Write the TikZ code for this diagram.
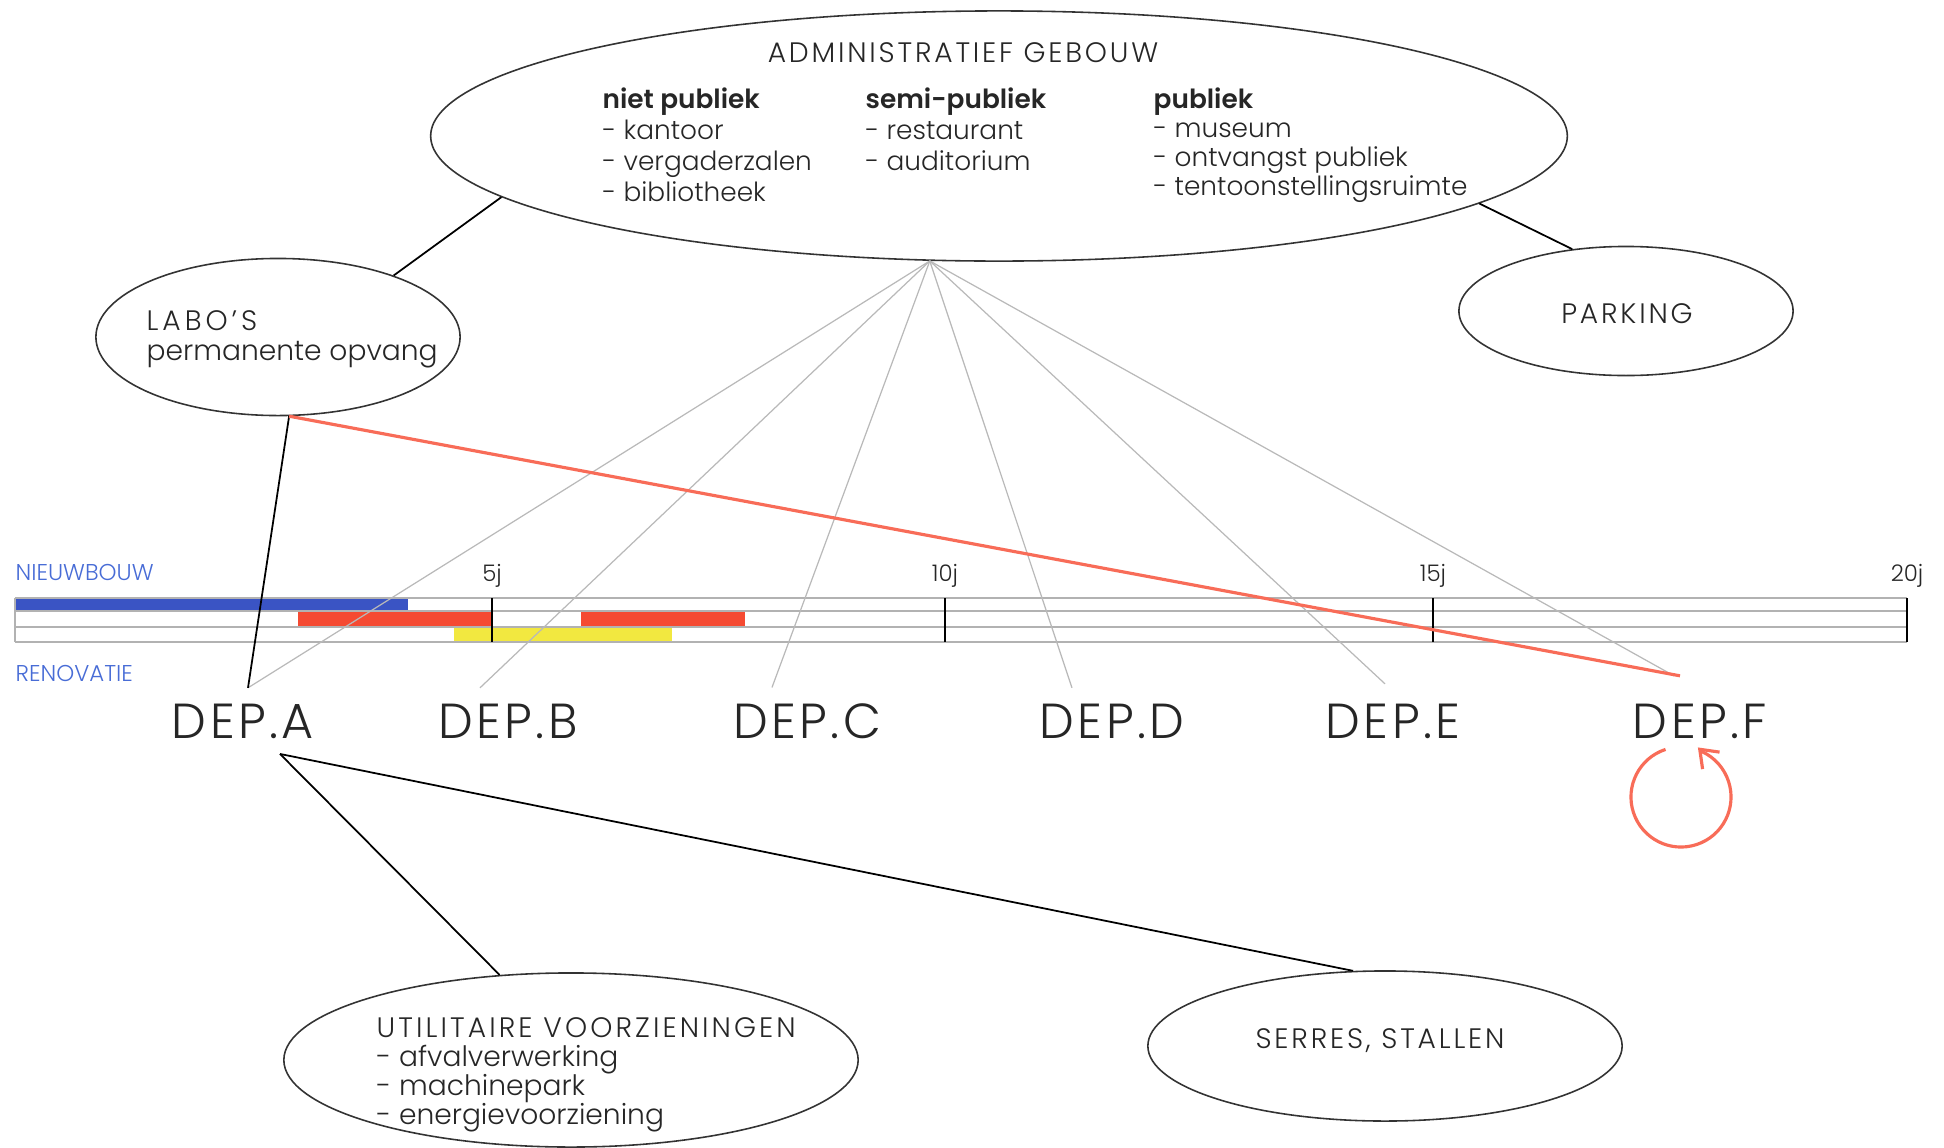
\documentclass[tikz,border=0pt]{standalone}
\usepackage{fontspec}
\setmainfont{Poppins}[UprightFont=*-Light,BoldFont=*-SemiBold]
\usetikzlibrary{shapes.geometric,arrows.meta}
\definecolor{nieuwblauw}{RGB}{58,84,196}
\definecolor{tekstblauw}{RGB}{72,108,214}
\definecolor{renorood}{RGB}{245,74,50}
\definecolor{renogeel}{RGB}{242,232,64}
\definecolor{lijnrood}{RGB}{248,108,88}
\tikzset{
  zone/.style={ellipse,draw=black!80,line width=0.45pt,inner sep=0pt},
  lijst/.style={anchor=north west,inner sep=0pt,align=left,text=black!85},
  dep/.style={anchor=base,inner xsep=0pt,inner ysep=0.15cm,text=black!85,font=\fontsize{14}{16}\selectfont\addfontfeatures{LetterSpace=7}},
  fan/.style={gray!55,line width=0.35pt},
  spoor/.style={gray!60,line width=0.6pt}
}
\begin{document}
\begin{tikzpicture}[x=0.01cm,y=-0.01cm]
\def \kop {\fontsize{8}{10}\selectfont\addfontfeatures{LetterSpace=10}}
\useasboundingbox (0,0) rectangle (1944,1148);
\draw (999,136) node[zone,minimum width=11.36cm,minimum height=2.5cm] (admin) {};
\draw (278,337) node[zone,minimum width=3.64cm,minimum height=1.57cm] (labo) {};
\draw (1626,311) node[zone,minimum width=3.34cm,minimum height=1.29cm] (parking) {};
\draw (571,1060) node[zone,minimum width=5.74cm,minimum height=1.74cm] (util) {};
\draw (1385,1046) node[zone,minimum width=4.74cm,minimum height=1.5cm] (serres) {};
\draw (963,62) node[anchor=base,inner sep=0pt,text=black!85,font=\kop] (admintitel) {ADMINISTRATIEF GEBOUW};
\draw (602,87) node[lijst,font=\fontsize{7.5}{8.8}\selectfont] (nietpubliek) {\textbf{niet publiek}\\- kantoor\\- vergaderzalen\\- bibliotheek};
\draw (865,87) node[lijst,font=\fontsize{7.5}{8.8}\selectfont] (semipubliek) {\textbf{semi-publiek}\\- restaurant\\- auditorium};
\draw (1153,87) node[lijst,font=\fontsize{7.5}{8.25}\selectfont] (publiek) {\textbf{publiek}\\- museum\\- ontvangst publiek\\- tentoonstellingsruimte};
\draw (146,310) node[lijst,font=\fontsize{8}{8.5}\selectfont] (labotekst) {{\addfontfeatures{LetterSpace=14}LABO'S}\\permanente opvang};
\draw (1627,314) node[text=black!85,font=\kop] (parkingtekst) {PARKING};
\draw (376,1017) node[lijst,font=\fontsize{8}{8.25}\selectfont] (utiltekst) {{\addfontfeatures{LetterSpace=11}UTILITAIRE VOORZIENINGEN}\\- afvalverwerking\\- machinepark\\- energievoorziening};
\draw (1380,1041) node[text=black!85,font=\kop] (serrestekst) {SERRES, STALLEN};
\fill[nieuwblauw] (15,598) rectangle (408,611);
\fill[renorood] (298,611) rectangle (492,626);
\fill[renorood] (581,611) rectangle (745,626);
\fill[renogeel] (454,627) rectangle (672,642);
\foreach \y in {598,611,627,642}
  \draw[spoor] (15,\y) -- (1907,\y);
\draw[spoor] (15,598) -- (15,642);
\foreach \x/\t in {492/5j,945/10j,1433/15j,1907/20j} {
  \draw[line width=0.4pt] (\x,598) -- (\x,642);
  \draw (\x,581) node[anchor=base,inner sep=0pt,text=black!85,font=\fontsize{6.5}{8}\selectfont] (j\x) {\t};
}
\draw (15,572) node[anchor=west,inner sep=0pt,text=tekstblauw,font=\fontsize{6.5}{8}\selectfont] (nieuwbouw) {NIEUWBOUW};
\draw (15,673) node[anchor=west,inner sep=0pt,text=tekstblauw,font=\fontsize{6.5}{8}\selectfont] (renovatie) {RENOVATIE};
\foreach \n/\x in {A/243,B/508,C/807,D/1112,E/1393,F/1700}
  \draw (\x,738) node[dep] (dep\n) {DEP.\n};
\coordinate (hub) at (admin.241);
\path[fan] (hub) edge ([xshift=0.05cm]depA.north)
  edge ([xshift=-0.28cm]depB.north)
  edge ([xshift=-0.35cm]depC.north)
  edge ([xshift=-0.4cm]depD.north)
  edge ([xshift=-0.08cm,yshift=0.04cm]depE.north)
  edge ([xshift=-0.26cm,yshift=0.12cm]depF.north);
\path[-,line width=0.5pt] (admin.187) edge (labo.28);
\path[-,line width=0.5pt] (admin.-8.5) edge (parking.131);
\path[-,line width=0.5pt] (labo.278) edge ([xshift=0.05cm]depA.north);
\path[-,lijnrood,line width=0.9pt] (labo.278) edge ([xshift=-0.2cm,yshift=0.12cm]depF.north);
\path[-,line width=0.5pt] ([xshift=0.37cm]depA.south) edge (util.130);
\path[-,line width=0.5pt] ([xshift=0.37cm]depA.south) edge (serres.113);
\coordinate (lus) at (1681,797);
\draw[lijnrood,line width=0.9pt,-{Straight Barb[length=1.6mm,width=2.4mm]}] ([shift={(108:0.5cm)}]lus) arc[start angle=108,end angle=425,radius=0.5cm] -- ++(135:0.06cm);
\end{tikzpicture}
\end{document}
